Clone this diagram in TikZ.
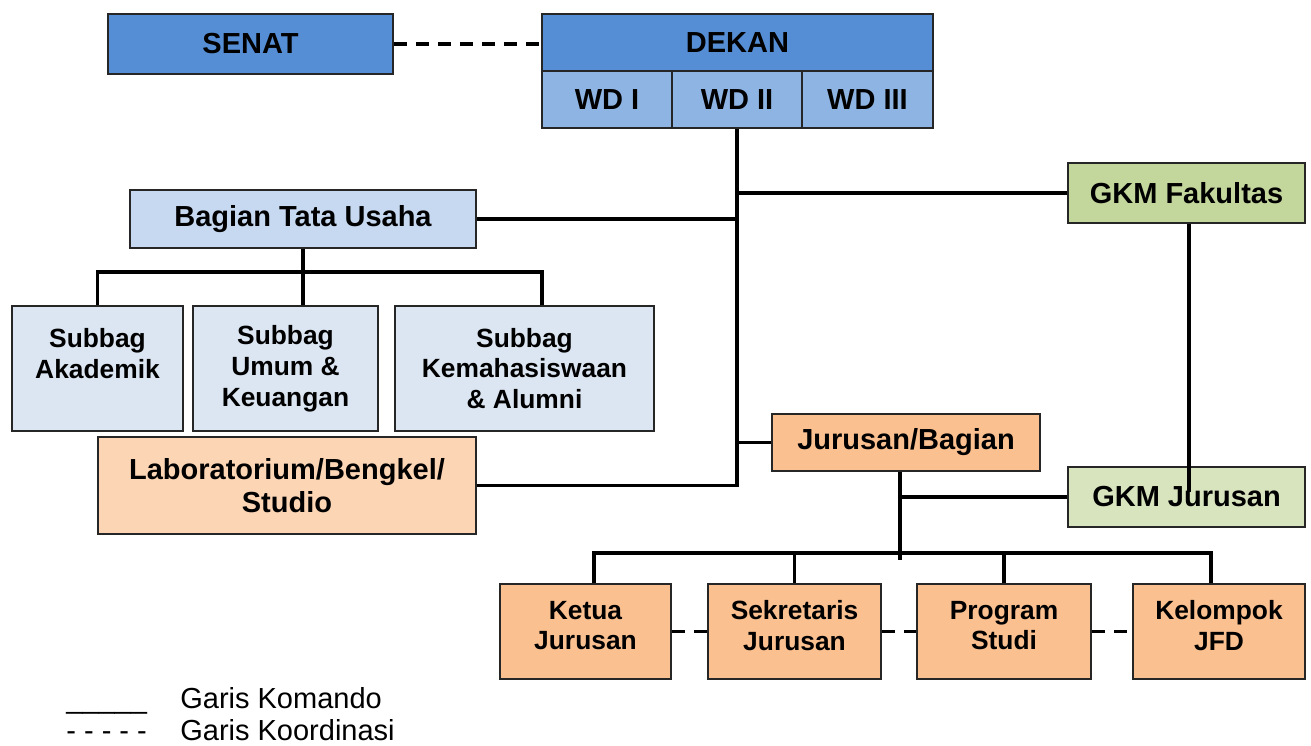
\documentclass[tikz,border=0pt]{standalone}
\usepackage{fontspec}
\setmainfont{Liberation Sans}
\usepackage{xcolor}
\definecolor{dekanblue}{RGB}{85,142,213}
\definecolor{wdblue}{RGB}{142,180,227}
\definecolor{tublue}{RGB}{198,217,241}
\definecolor{subblue}{RGB}{220,230,242}
\definecolor{labpeach}{RGB}{252,213,181}
\definecolor{jurorange}{RGB}{250,192,144}
\definecolor{gkmgreen}{RGB}{195,214,155}
\definecolor{gkmlight}{RGB}{215,228,189}

\begin{document}
\begin{tikzpicture}[x=0.2mm, y=-0.2mm,
  box/.style={rectangle, draw=black!85, line width=1pt, inner sep=0pt, align=center, font=\fontsize{16.5}{19}\selectfont\bfseries},
  smallbox/.style={box, font=\fontsize{15}{17.5}\selectfont\bfseries},
  cmd/.style={line width=1.8pt},
  coord/.style={line width=1.8pt, dash pattern=on 2.6mm off 1.8mm},
  legend/.style={inner sep=0pt, font=\fontsize{16.5}{19}\selectfont}
]
\useasboundingbox (0,0) rectangle (1311,746);

\node[box, fill=dekanblue, minimum width=5.7cm, minimum height=1.2cm] (senat) at (250.5,44) {SENAT};
\node[box, fill=dekanblue, minimum width=7.82cm, minimum height=1.14cm] (dekan) at (737.5,42.5) {DEKAN};
\node[box, fill=wdblue, minimum width=2.6cm, minimum height=1.14cm] (wd1) at (607,99.5) {WD I};
\node[box, fill=wdblue, minimum width=2.6cm, minimum height=1.14cm] (wd2) at (737,99.5) {WD II};
\node[box, fill=wdblue, minimum width=2.62cm, minimum height=1.14cm] (wd3) at (867.5,99.5) {WD III};

\node[box, fill=gkmgreen, minimum width=4.74cm, minimum height=1.2cm] (gkmf) at (1186.5,193) {GKM Fakultas};
\node[box, fill=tublue, minimum width=6.92cm, minimum height=1.16cm] (tu) at (303,219) {Bagian Tata Usaha};

\node[smallbox, fill=subblue, minimum width=3.42cm, minimum height=2.5cm] (akademik) at (97.5,368.5) {Subbag\\Akademik\\~};
\node[smallbox, fill=subblue, minimum width=3.7cm, minimum height=2.5cm] (umum) at (285.5,368.5) {Subbag\\Umum \&\\Keuangan};
\node[smallbox, fill=subblue, minimum width=5.18cm, minimum height=2.5cm] (mhs) at (524.5,368.5) {Subbag\\Kemahasiswaan\\\& Alumni};

\node[box, fill=labpeach, minimum width=7.56cm, minimum height=1.94cm] (lab) at (287,485.5) {Laboratorium/Bengkel/\\Studio};
\node[box, fill=jurorange, minimum width=5.36cm, minimum height=1.14cm] (jb) at (906,442.5) {Jurusan/Bagian};
\node[box, fill=gkmlight, minimum width=4.74cm, minimum height=1.2cm] (gkmj) at (1186.5,497) {GKM Jurusan};

\node[smallbox, fill=jurorange, minimum width=3.42cm, minimum height=1.9cm] (ketua) at (585.5,631.5) {Ketua\\Jurusan\\[-10.5pt]};
\node[smallbox, fill=jurorange, minimum width=3.46cm, minimum height=1.9cm] (sekr) at (794.5,631.5) {Sekretaris\\Jurusan\\[-10.5pt]};
\node[smallbox, fill=jurorange, minimum width=3.48cm, minimum height=1.9cm] (prodi) at (1004,631.5) {Program\\Studi\\[-10.5pt]};
\node[smallbox, fill=jurorange, minimum width=3.44cm, minimum height=1.9cm] (jfd) at (1219,631.5) {Kelompok\\JFD\\[-10.5pt]};

% garis komando
\coordinate (sbar) at (304,272);
\coordinate (jbar) at (900,553);
\draw[cmd] (lab.east) -| (wd2.south);
\draw[cmd] (tu.east) -- (tu.east -| wd2.south);
\draw[cmd] (gkmf.west) -- (gkmf.west -| wd2.south);
\draw[cmd] (jb.west) -- (jb.west -| wd2.south);
\draw[cmd] (tu.south) -- (tu.south |- umum.north);
\draw[cmd] (akademik.north) |- (sbar) -| ([xshift=3.5mm]mhs.north);
\draw[cmd] (jb.south -| jbar) -- ([yshift=-4pt]jbar);
\draw[cmd] (gkmj.west) -- (gkmj.west -| jbar);
\draw[cmd] ([xshift=1.7mm]ketua.north) |- (jbar) -| ([xshift=-1.6mm]jfd.north);
\draw[cmd] (sekr.north) -- (sekr.north |- jbar);
\draw[cmd] (prodi.north) -- (prodi.north |- jbar);
\draw[cmd] ([xshift=0.5mm]gkmf.south) -- ([xshift=0.5mm,yshift=3pt]gkmj.center);

% garis koordinasi
\draw[coord] (senat.east) -- (senat.east -| dekan.west);
\draw[coord] (ketua.east) -- (sekr.west);
\draw[coord] (sekr.east) -- (prodi.west);
\draw[coord] (prodi.east) -- (jfd.west);

% keterangan
\node[legend, anchor=base west] (lk1) at (66,708) {\_\_\_\_\_};
\node[legend, anchor=base west] (lt1) at (180,708) {Garis Komando};
\node[legend, anchor=base west] (lk2) at (66,740) {- - - - -};
\node[legend, anchor=base west] (lt2) at (180,740) {Garis Koordinasi};
\end{tikzpicture}
\end{document}
